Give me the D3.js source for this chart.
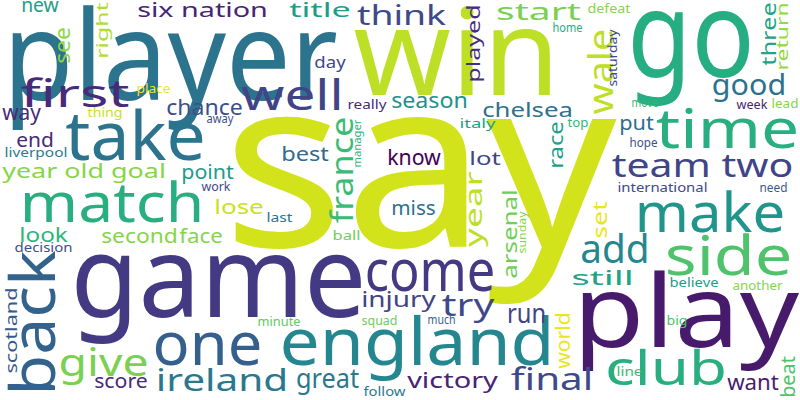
<!DOCTYPE html>
<html>
<head>
<meta charset="utf-8">
<script src="https://cdn.jsdelivr.net/npm/d3@7"></script>
<style>
  body { margin: 0; background: #fff; }
  text { font-family: "Noto Sans", sans-serif; }
</style>
</head>
<body>
<div id="cloud"></div>
<script>
// Word cloud - word list, relative weights and where each word sits in the cloud

let words = ["say", "player", "win", "go", "game", "play", "take", "england", "back", "one",
    "come", "match", "time", "make", "side", "club", "well", "add", "first", "give",
    "wale", "team two", "ireland", "try", "france", "final", "good", "great", "think", "run",
    "year", "start", "injury", "victory", "want", "know", "chance", "way", "season", "see",
    "chelsea", "six nation", "title", "new", "end", "best", "year old goal", "lose", "second", "score",
    "still", "set", "world", "beat", "race", "point", "face", "look", "miss", "put",
    "arsenal", "three", "lot", "played", "right", "day", "return", "scotland", "place", "thing",
    "really", "away", "liverpool", "manager", "work", "last", "ball", "decision", "minute", "squad",
    "follow", "much", "big", "line", "sunday", "believe", "another", "defeat", "home", "saturday",
    "move", "week", "lead", "hope", "italy", "top", "international", "need"];

// relative frequency (say = 100)
let weights = [99, 52, 50, 50, 47, 42, 28, 27, 26, 25,
    24, 23, 23, 23, 23, 20, 17.5, 17, 16, 16,
    14.5, 14, 13, 13, 12.5, 12.5, 12, 11, 11, 11,
    9.5, 9.5, 9, 9, 9, 9, 9, 9, 9, 9,
    8.5, 8.5, 8.5, 8.5, 8.5, 8.5, 8.5, 8.5, 8.5, 8.5,
    8.5, 8.5, 8.5, 8.5, 8.5, 8, 8, 8, 8, 8,
    8, 8, 7.5, 7.5, 7, 7, 6.5, 6.5, 5, 5,
    5, 5, 5, 4.5, 5, 5, 5, 5, 5, 5,
    5, 5, 5, 5, 4.5, 5, 5, 5, 5, 5,
    5, 5, 5, 5, 5, 5, 5, 5];

// viridis colour position of each word
let tones = [0.93, 0.38, 0.90, 0.62, 0.17, 0.07, 0.38, 0.46, 0.31, 0.30,
    0.17, 0.63, 0.63, 0.52, 0.72, 0.63, 0.20, 0.46, 0.12, 0.80,
    0.90, 0.20, 0.40, 0.22, 0.68, 0.22, 0.37, 0.40, 0.22, 0.20,
    0.90, 0.80, 0.20, 0.10, 0.08, 0.00, 0.24, 0.12, 0.50, 0.83,
    0.37, 0.10, 0.55, 0.55, 0.12, 0.35, 0.82, 0.92, 0.82, 0.12,
    0.58, 0.97, 0.97, 0.72, 0.56, 0.55, 0.82, 0.65, 0.36, 0.36,
    0.78, 0.58, 0.20, 0.13, 0.88, 0.22, 0.84, 0.28, 0.98, 0.92,
    0.12, 0.24, 0.42, 0.65, 0.22, 0.38, 0.78, 0.24, 0.75, 0.78,
    0.40, 0.30, 0.72, 0.68, 0.82, 0.55, 0.82, 0.82, 0.62, 0.22,
    0.66, 0.10, 0.82, 0.24, 0.56, 0.66, 0.22, 0.28];

// cloud layout: start point, ink length, vertical flag
let layoutX = [232, 8, 358, 632, 75, 577, 68, 282, 55, 155,
    367, 22, 658, 637, 667, 607, 243, 582, 22, 60,
    613, 613, 157, 443, 353, 512, 713, 297, 358, 508,
    482, 497, 362, 408, 728, 388, 167, 3, 392, 70,
    483, 138, 290, 22, 17, 282, 3, 215, 102, 95,
    572, 607, 570, 795, 563, 182, 180, 20, 392, 620,
    517, 776, 470, 480, 108, 315, 788, 17, 137, 88,
    348, 207, 5, 361, 202, 267, 333, 15, 258, 362,
    364, 428, 667, 617, 526, 670, 733, 588, 553, 617,
    632, 737, 772, 630, 460, 568, 618, 760];
let layoutY = [247, 100, 95, 77, 317, 347, 160, 365, 393, 365,
    291, 222, 148, 232, 275, 385, 110, 263, 107, 376,
    113, 177, 391, 316, 222, 390, 95, 388, 25, 323,
    246, 20, 307, 388, 390, 165, 115, 120, 108, 63,
    117, 17, 17, 12, 147, 161, 178, 214, 243, 388,
    285, 238, 368, 397, 168, 179, 243, 242, 215, 130,
    278, 65, 165, 82, 58, 68, 70, 373, 93, 117,
    109, 123, 157, 167, 191, 222, 240, 252, 326, 325,
    396, 324, 325, 376, 253, 287, 290, 13, 32, 86,
    107, 109, 108, 147, 128, 127, 192, 192];
let layoutLen = [375, 325, 197, 118, 287, 218, 135, 270, 140, 105,
    126, 180, 139, 146, 123, 118, 99, 66, 106, 87,
    83, 179, 130, 50, 104, 80, 72, 61, 87, 37,
    74, 83, 73, 89, 50, 52, 75, 37, 75, 35,
    89, 129, 60, 36, 36, 46, 162, 48, 75, 52,
    61, 36, 55, 40, 46, 51, 42, 47, 43, 33,
    88, 62, 30, 77, 55, 30, 67, 85, 33, 34,
    38, 26, 62, 47, 28, 25, 27, 57, 42, 35,
    41, 27, 20, 25, 41, 48, 49, 42, 29, 56,
    26, 30, 26, 27, 35, 20, 89, 27];
let vertical = [0, 0, 0, 0, 0, 0, 0, 0, 1, 0,
    0, 0, 0, 0, 0, 0, 0, 0, 0, 0,
    1, 0, 0, 0, 1, 0, 0, 0, 0, 0,
    1, 0, 0, 0, 0, 0, 0, 0, 0, 1,
    0, 0, 0, 0, 0, 0, 0, 0, 0, 0,
    0, 1, 1, 1, 1, 0, 0, 0, 0, 0,
    1, 1, 0, 1, 1, 0, 1, 1, 0, 0,
    0, 0, 0, 1, 0, 0, 0, 0, 0, 0,
    0, 0, 0, 0, 1, 0, 0, 0, 0, 1,
    0, 0, 0, 0, 0, 0, 0, 0];

let width = 800, height = 400;

let svg = d3.select("#cloud").append("svg")
    .attr("width", width)
    .attr("height", height);

svg.append("rect")
    .attr("width", width)
    .attr("height", height)
    .attr("fill", "#ffffff");

// scales
let x = d3.scaleLinear().domain([0, 800]).range([0, width]);
let y = d3.scaleLinear().domain([0, 400]).range([0, height]);
let fontSize = d3.scaleLinear().domain([0, 100]).range([0, 240]);

let data = words.map((w, i) => ({
    text: w,
    size: fontSize(weights[i]),
    color: d3.interpolateViridis(tones[i]),
    px: x(layoutX[i]),
    py: y(layoutY[i]),
    len: layoutLen[i],
    rot: vertical[i] === 1
}));

// glyphs are stretched to the word's length in the cloud
svg.append("g")
    .attr("class", "words")
    .selectAll("text")
    .data(data)
    .join("text")
    .attr("transform", d => d.rot
        ? `translate(${d.px}, ${d.py + d.size * 0.04}) rotate(-90)`
        : `translate(${d.px - d.size * 0.04}, ${d.py})`)
    .attr("font-size", d => d.size)
    .attr("fill", d => d.color)
    .attr("textLength", d => d.len + d.size * 0.08)
    .attr("lengthAdjust", "spacingAndGlyphs")
    .text(d => d.text);
</script>
</body>
</html>
